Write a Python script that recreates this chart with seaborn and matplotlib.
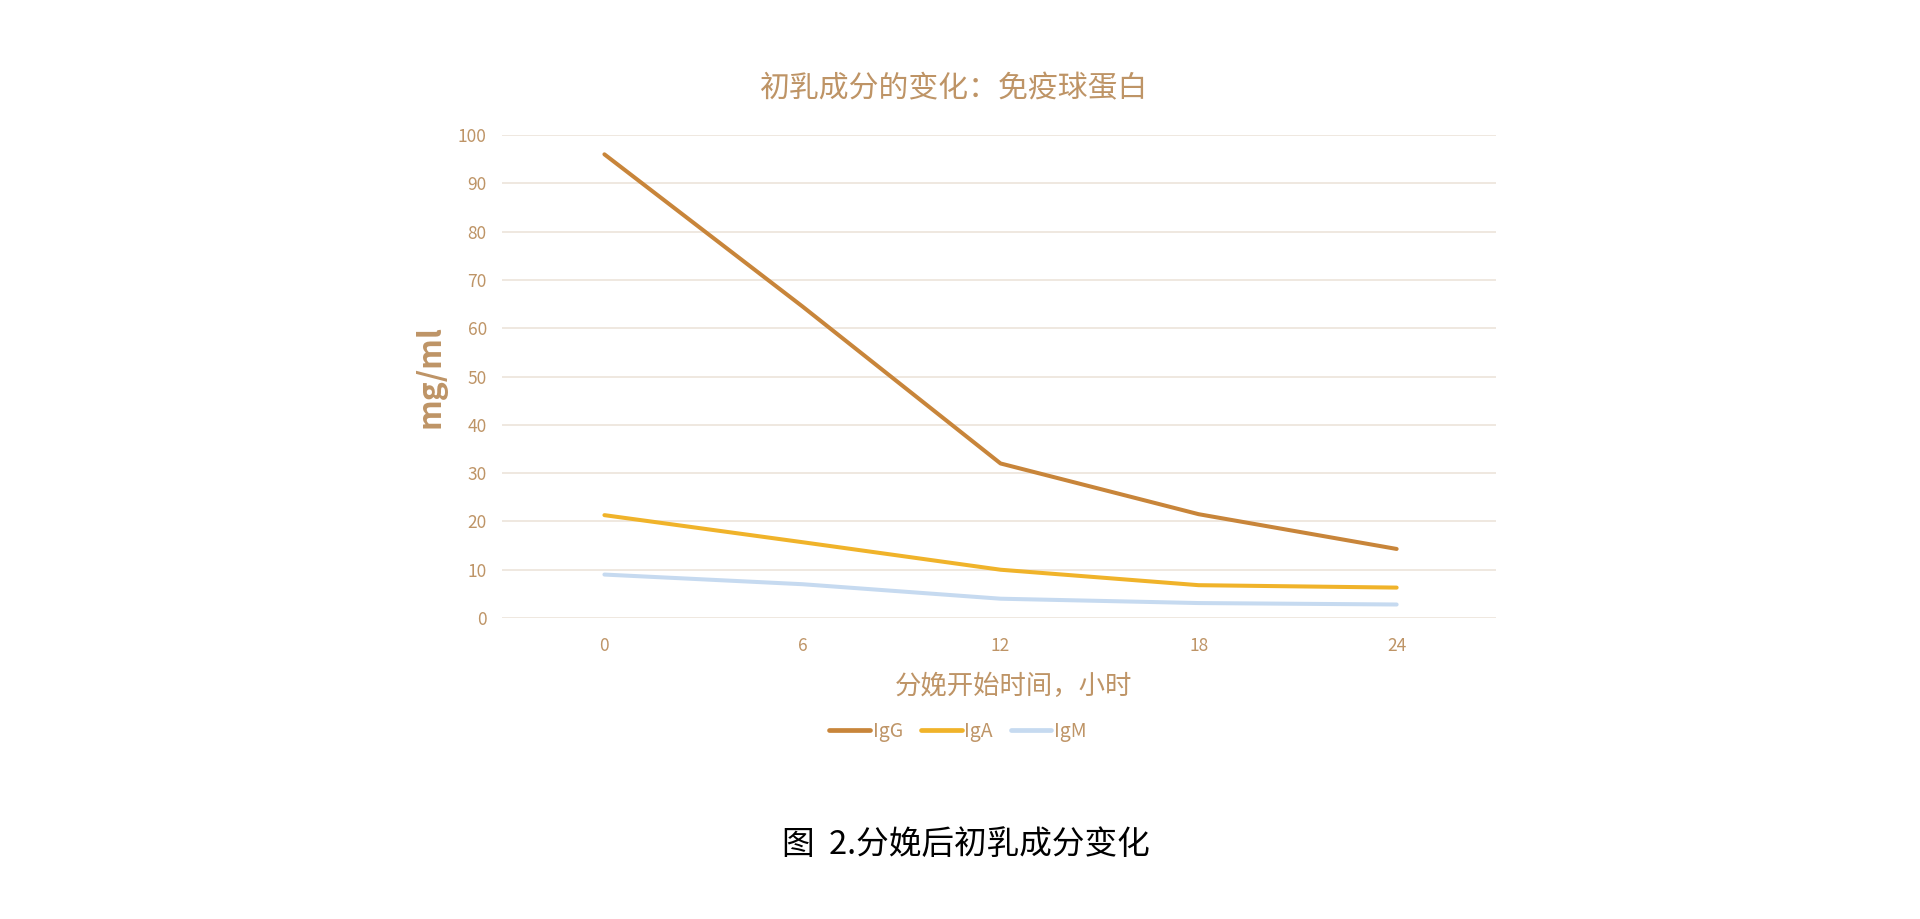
import pandas as pd
import matplotlib
matplotlib.use("Agg")
import matplotlib.pyplot as plt
import seaborn as sns

# 数据
hours = [0, 6, 12, 18, 24]
igg = [96, 64.5, 32, 21.5, 14.3]
iga = [21.3, 15.7, 10.0, 6.8, 6.3]
igm = [9.0, 7.0, 4.0, 3.1, 2.8]
series_names = ["IgG", "IgA", "IgM"]
y_ticks = list(range(0, 101, 10))

colors = {"IgG": "#C8853A", "IgA": "#F0B32A", "IgM": "#C6DAF0"}
tan = "#BE9466"

sns.set_style("white")
plt.rcParams['font.family'] = ['Noto Sans CJK SC', 'DejaVu Sans']

df = pd.DataFrame({
    "hour": hours * 3,
    "value": igg + iga + igm,
    "series": [s for s in series_names for _ in hours],
})

fig = plt.figure(figsize=(19.2, 9.19), dpi=100)
ax = fig.add_axes([0.2615, 0.3275, 0.5175, 0.5256])

sns.lineplot(data=df, x="hour", y="value", hue="series", palette=colors,
             hue_order=series_names, linewidth=2.9, ax=ax, legend=False)

ax.set_xlim(-3.1, 27.0)
ax.set_ylim(0, 100)
ax.set_yticks(y_ticks)
ax.set_xticks(hours)
ax.yaxis.grid(True, color="#EEE6DD", linewidth=1.3)
ax.xaxis.grid(False)
ax.set_axisbelow(True)
for sp in ax.spines.values():
    sp.set_visible(False)
ax.tick_params(axis="both", length=0, colors=tan, labelsize=12.5)
ax.tick_params(axis="y", pad=11)
ax.tick_params(axis="x", pad=14)

ax.set_ylabel("mg/ml", color=tan, fontsize=23, fontweight="bold", labelpad=8)
ax.set_xlabel("")

fig.text(0.497, 0.903, "初乳成分的变化：免疫球蛋白", ha="center", va="center",
         color=tan, fontsize=21.5)
fig.text(0.528, 0.2525, "分娩开始时间，小时", ha="center", va="center",
         color=tan, fontsize=19)

handles = [plt.Line2D([0], [0], color=colors[s], linewidth=3.4) for s in series_names]
leg = fig.legend(handles, series_names, loc="center", bbox_to_anchor=(0.499, 0.204),
                 ncol=3, frameon=False, fontsize=14, handlelength=2.1,
                 handletextpad=0.15, columnspacing=0.9)
for t in leg.get_texts():
    t.set_color(tan)

fig.text(0.503, 0.0805, "图  2.分娩后初乳成分变化", ha="center", va="center",
         fontsize=23.5, color="black")

fig.savefig("out.png", dpi=100, facecolor="white")
